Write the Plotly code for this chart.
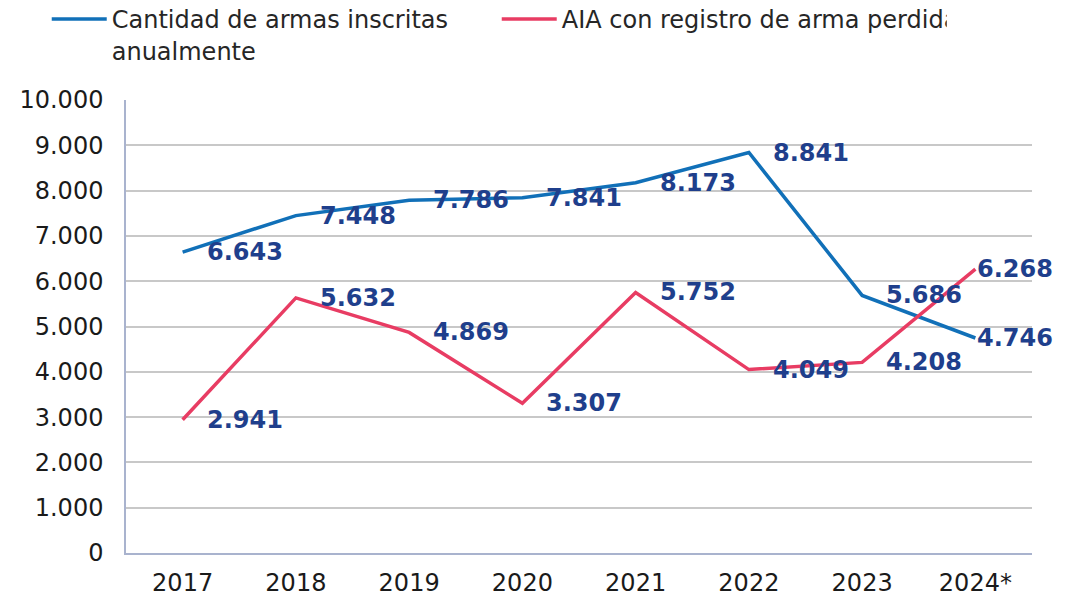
import plotly.graph_objects as go

years = ["2017", "2018", "2019", "2020", "2021", "2022", "2023", "2024*"]
armas_inscritas = [6643, 7448, 7786, 7841, 8173, 8841, 5686, 4746]
aia_perdida = [2941, 5632, 4869, 3307, 5752, 4049, 4208, 6268]
series_names = ["Cantidad de armas inscritas<br>anualmente", "AIA con registro de arma perdida"]

BLUE = "#1170B8"
RED = "#E83C63"
LABEL = "#1F3F8C"
FONT = "DejaVu Sans"

fig = go.Figure()
fig.add_trace(go.Scatter(x=years, y=armas_inscritas, mode="lines", name=series_names[0],
                         line=dict(color=BLUE, width=3.5)))
fig.add_trace(go.Scatter(x=years, y=aia_perdida, mode="lines", name=series_names[1],
                         line=dict(color=RED, width=3.5)))

def fmt(v):
    return f"{v:,}".replace(",", ".")

annotations = []
for series in (armas_inscritas, aia_perdida):
    for i, v in enumerate(series):
        annotations.append(dict(
            x=i, y=v, xref="x", yref="y", text=fmt(v), showarrow=False,
            xanchor="left", yanchor="middle",
            xshift=(0 if i == len(years) - 1 else 22),
            font=dict(family=FONT, size=24, color=LABEL, weight="bold"),
        ))

fig.update_layout(
    width=1076, height=599,
    margin=dict(l=118, r=52, t=92, b=54, autoexpand=False),
    paper_bgcolor="white", plot_bgcolor="white",
    separators=",.",
    font=dict(family=FONT, size=24, color="#1a1a1a"),
    showlegend=True,
    legend=dict(
        orientation="h", xref="container", yref="paper",
        x=0.036, y=1.2274, xanchor="left", yanchor="top",
        entrywidth=380, entrywidthmode="pixels",
        itemwidth=55, valign="top",
        font=dict(family=FONT, size=24, color="#262626"),
        tracegroupgap=0, bgcolor="rgba(0,0,0,0)",
    ),
    annotations=annotations,
)
fig.update_xaxes(
    type="category", range=[-0.5, 7.5], automargin=False,
    showgrid=False, showline=True, linecolor="#A9B3CE", linewidth=1.5,
    ticks="", ticklabelstandoff=7,
    tickfont=dict(family=FONT, size=24, color="#1a1a1a"),
)
fig.update_yaxes(
    range=[0, 10000], dtick=1000, tickformat=",d", automargin=False,
    showgrid=True, gridcolor="#C8C8C8", gridwidth=1.5,
    showline=True, linecolor="#A9B3CE", linewidth=1.5,
    zeroline=False, ticks="", ticklabelstandoff=16,
    tickfont=dict(family=FONT, size=24, color="#1a1a1a"),
)

fig.write_html("out.html")
